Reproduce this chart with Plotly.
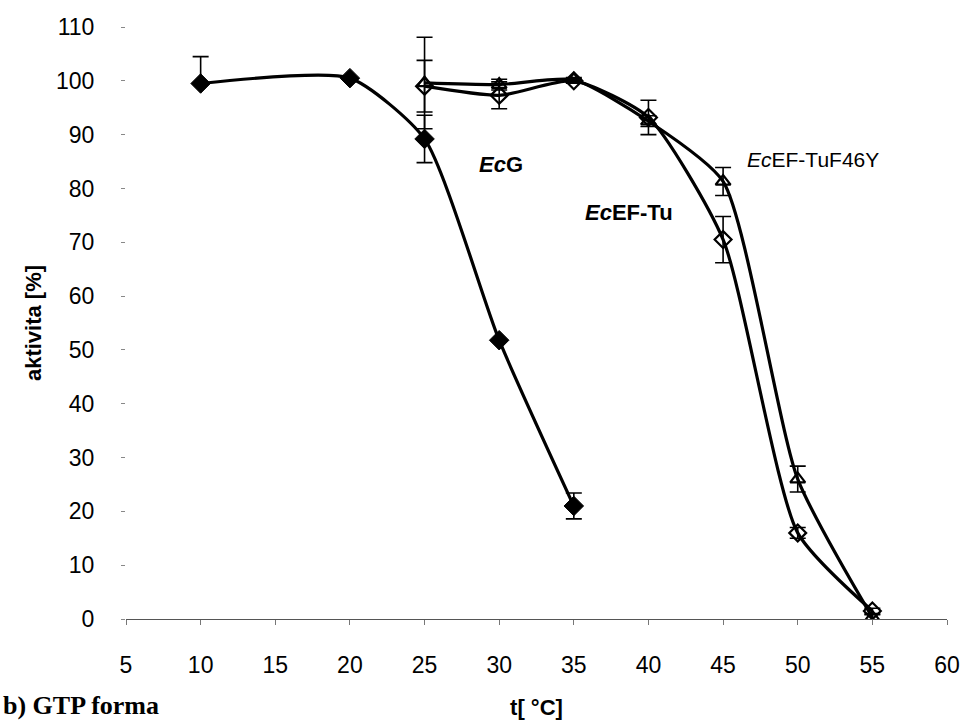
import plotly.graph_objects as go

# ---- data ----
x_ecg = [10, 20, 25, 30, 35]
y_ecg = [99.5, 100.5, 89.2, 51.8, 21.0]
ecg_err_plus = [5.0, 0.0, 4.4, 0.0, 2.4]
ecg_err_minus = [0.0, 0.0, 4.4, 0.0, 2.4]

x_eftu = [25, 30, 35, 40, 45, 50, 55]
y_eftu = [99.0, 97.3, 100.0, 93.2, 70.5, 16.0, 1.5]
eftu_err = [4.8, 2.5, 0.4, 3.2, 4.3, 1.0, 0.5]

x_f46y = [25, 30, 35, 40, 45, 50, 55]
y_f46y = [99.6, 99.3, 100.2, 92.5, 81.3, 26.0, 0.3]
f46y_err = [8.5, 1.0, 0.4, 1.0, 2.6, 2.4, 0.5]

x_ticks = [5, 10, 15, 20, 25, 30, 35, 40, 45, 50, 55, 60]
y_ticks = [0, 10, 20, 30, 40, 50, 60, 70, 80, 90, 100, 110]

FONT = "Liberation Sans, Arial, sans-serif"

fig = go.Figure()


def err(plus, minus):
    return dict(type="data", array=plus, arrayminus=minus, symmetric=False,
                color="black", thickness=1.6, width=8)


SMOOTH = 0.6

fig.add_trace(go.Scatter(
    x=x_f46y, y=y_f46y, mode="lines+markers", name="EcEF-TuF46Y",
    line=dict(color="black", width=3.2, shape="spline", smoothing=SMOOTH),
    marker=dict(symbol="triangle-up-open", size=13, color="black",
                line=dict(color="black", width=2.2)),
    error_y=err(f46y_err, f46y_err),
))
fig.add_trace(go.Scatter(
    x=x_eftu, y=y_eftu, mode="lines+markers", name="EcEF-Tu",
    line=dict(color="black", width=3.2, shape="spline", smoothing=SMOOTH),
    marker=dict(symbol="diamond-open", size=13, color="black",
                line=dict(color="black", width=2.2)),
    error_y=err(eftu_err, eftu_err),
))
fig.add_trace(go.Scatter(
    x=x_ecg, y=y_ecg, mode="lines+markers", name="EcG",
    line=dict(color="black", width=3.2, shape="spline", smoothing=SMOOTH),
    marker=dict(symbol="diamond", size=15, color="black",
                line=dict(color="black", width=1)),
    error_y=err(ecg_err_plus, ecg_err_minus),
))

# series labels
fig.add_annotation(x=30.1, y=84.4, text="<b><i>Ec</i>G</b>", showarrow=False,
                   font=dict(family=FONT, size=22, color="black"))
fig.add_annotation(x=38.7, y=75.6, text="<b><i>Ec</i>EF-Tu</b>", showarrow=False,
                   font=dict(family=FONT, size=22, color="black"))
fig.add_annotation(x=51.0, y=85.3, text="<i>Ec</i>EF-TuF46Y", showarrow=False,
                   font=dict(family=FONT, size=21, color="black"))

# panel caption
fig.add_annotation(xref="paper", yref="paper", x=-0.152, y=-0.146,
                   xanchor="left", yanchor="middle",
                   text="<b>b) GTP forma</b>", showarrow=False,
                   font=dict(family="Liberation Serif, Times New Roman, serif",
                             size=26, color="black"))

fig.update_layout(
    width=966, height=720,
    margin=dict(l=126, r=19, t=27, b=101),
    paper_bgcolor="white", plot_bgcolor="white",
    showlegend=False,
    font=dict(family=FONT, size=22, color="black"),
)
fig.update_xaxes(
    range=[5, 60], tickvals=x_ticks, ticktext=[str(v) for v in x_ticks],
    showgrid=False, zeroline=False, automargin=False,
    showline=True, linecolor="#555555", linewidth=1.2,
    ticks="outside", ticklen=5, tickcolor="#777777",
    ticklabelstandoff=20,
    tickfont=dict(family=FONT, size=23),
    title=dict(text="<b>t[ °C]</b>", font=dict(family=FONT, size=22), standoff=22),
)
fig.update_yaxes(
    range=[0, 110], tickvals=y_ticks, ticktext=[str(v) for v in y_ticks],
    showgrid=False, zeroline=False, showline=False, automargin=False,
    ticks="outside", ticklen=4, tickcolor="#888888",
    ticklabelstandoff=22,
    tickfont=dict(family=FONT, size=23),
    title=dict(text="<b>aktivita [%]</b>", font=dict(family=FONT, size=22), standoff=8),
)

fig.write_html("out.html")
